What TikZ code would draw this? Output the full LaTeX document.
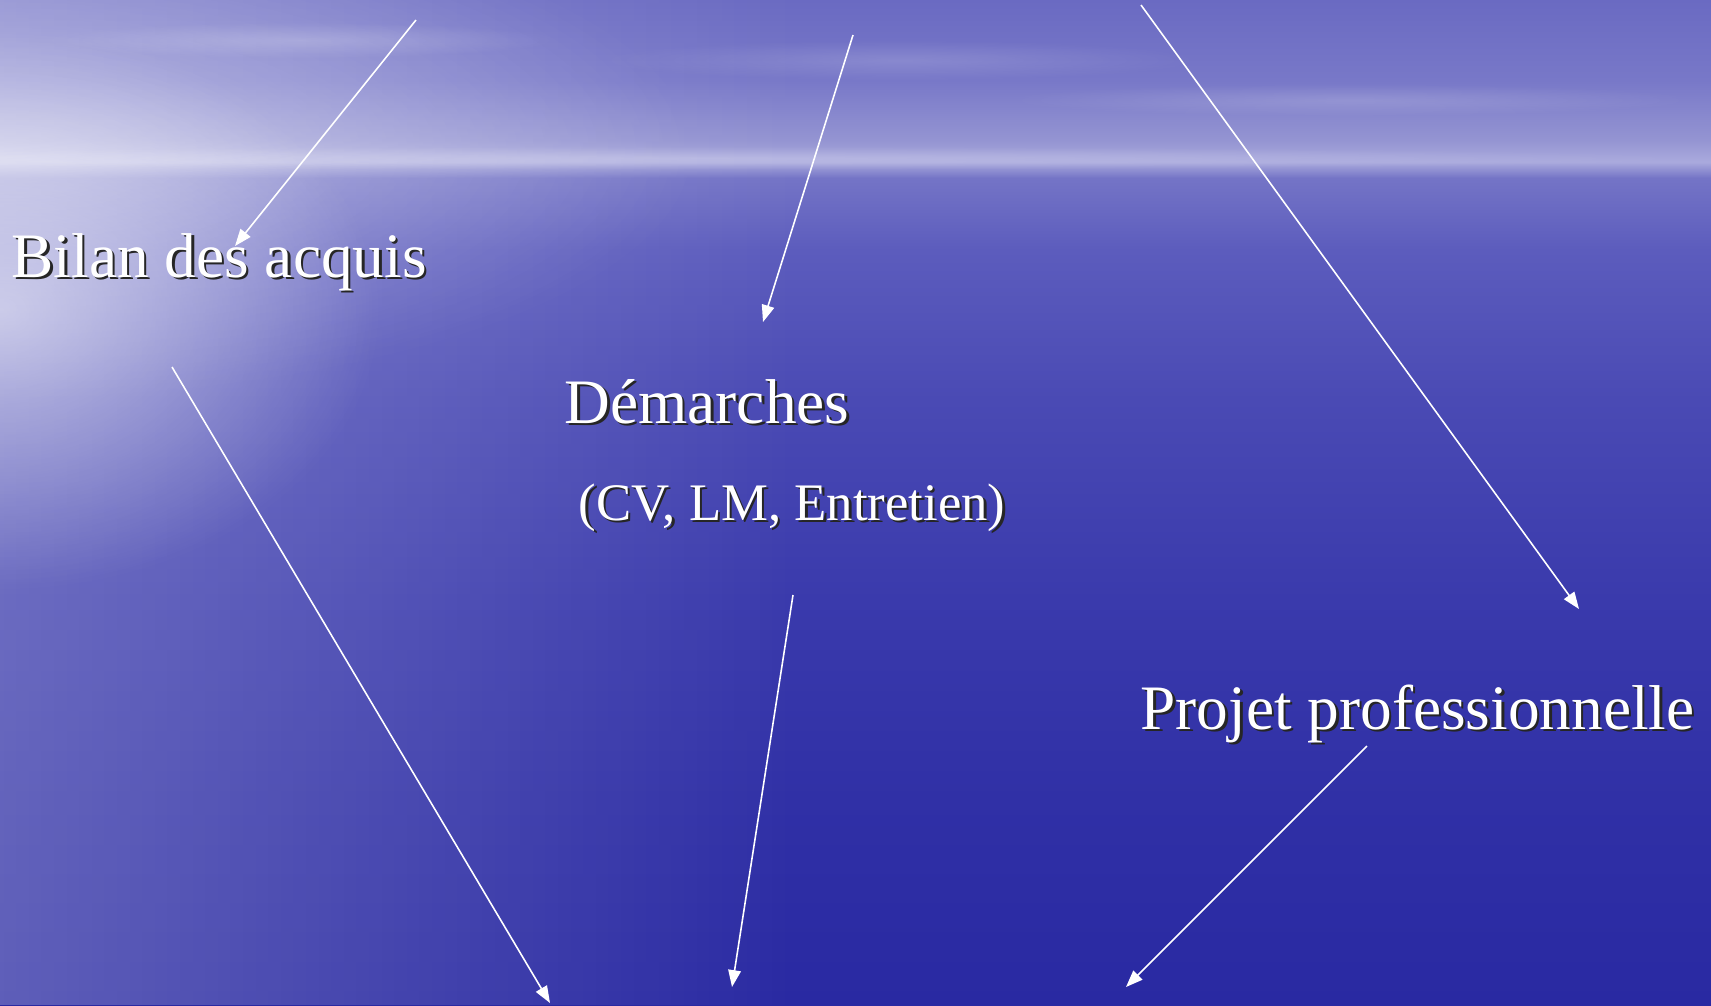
\documentclass[tikz,border=0pt]{standalone}
\usepackage{fontspec}
\setmainfont{Liberation Serif}
\usetikzlibrary{arrows.meta,fadings}

\definecolor{skytop}{HTML}{6A6AC2}
\definecolor{skycloud}{HTML}{7878C8}
\definecolor{skylow}{HTML}{9494D2}
\definecolor{horizon}{HTML}{AAAADD}
\definecolor{seahigh}{HTML}{7474C6}
\definecolor{seaupper}{HTML}{5C5CBD}
\definecolor{seamid}{HTML}{4A4AB4}
\definecolor{sealow}{HTML}{3A3AAC}
\definecolor{seadeep}{HTML}{3030A6}
\definecolor{seabottom}{HTML}{2929A2}

\pgfdeclareverticalshading{seasky}{100bp}{color(0bp)=(seabottom); color(25bp)=(seabottom); color(35.2bp)=(seadeep); color(45.15bp)=(sealow); color(55.1bp)=(seamid); color(62.56bp)=(seaupper); color(66.14bp)=(seahigh); color(66.94bp)=(horizon); color(68.03bp)=(skylow); color(71bp)=(skycloud); color(75bp)=(skytop); color(100bp)=(skytop)}
\tikzfading[name=glowfade, inner color=transparent!0, outer color=transparent!100]

\newcommand{\shadowtxt}[1]{\makebox[0pt][l]{\hspace{0.7pt}\raisebox{-0.7pt}{\color{black!85}#1}}#1}

\begin{document}
\begin{tikzpicture}[x=0.01cm, y=-0.01cm,
  label/.style={inner sep=0pt, anchor=base west, text=white, font=\fontsize{18}{21}\selectfont},
  sublabel/.style={label, font=\fontsize{15}{18}\selectfont},
  pointer/.style={draw=white, line width=0.45pt, -{Triangle[length=4.8pt, width=3.6pt]}},
  streak/.style={fill=white, path fading=glowfade}]
\useasboundingbox (0,0) rectangle (1711,1005);
\shade[shading=seasky] (0,0) rectangle (1711,1005);
\fill[white, path fading=east, opacity=0.25] (0,0) rectangle (800,1005);
\fill[white, path fading=glowfade, opacity=0.3] (0,150) ellipse (700 and 250);
\fill[white, path fading=glowfade, opacity=0.55] (0,310) ellipse (380 and 280);
\fill[streak, opacity=0.2] (300,40) ellipse (260 and 18);
\fill[streak, opacity=0.15] (900,60) ellipse (300 and 20);
\fill[streak, opacity=0.15] (1350,100) ellipse (350 and 16);
\fill[streak, opacity=0.2] (700,158) ellipse (1000 and 12);

\node[label] (bilan) at (11,277) {\shadowtxt{Bilan des acquis}};
\node[label] (demarches) at (564,423) {\shadowtxt{Démarches}};
\node[sublabel] (outils) at (578,520) {\shadowtxt{(CV, LM, Entretien)}};
\node[label] (projet) at (1140,729) {\shadowtxt{Projet professionnelle}};

\coordinate (a1) at (416,20);
\coordinate (a2) at (853,35);
\coordinate (a3) at (1141,5);
\coordinate (a4) at (172,367);
\coordinate (a5) at (793,595);
\coordinate (a6) at (1367,746);
\coordinate (b1) at (235,246);
\coordinate (b2) at (763,322);
\coordinate (b3) at (1579,609);
\coordinate (b4) at (550,1003);
\coordinate (b5) at (732,987);
\coordinate (b6) at (1126,987);

\draw[pointer] (a1) -- (b1);
\draw[pointer] (a2) -- (b2);
\draw[pointer] (a3) -- (b3);
\draw[pointer] (a4) -- (b4);
\draw[pointer] (a5) -- (b5);
\draw[pointer] (a6) -- (b6);
\end{tikzpicture}
\end{document}
